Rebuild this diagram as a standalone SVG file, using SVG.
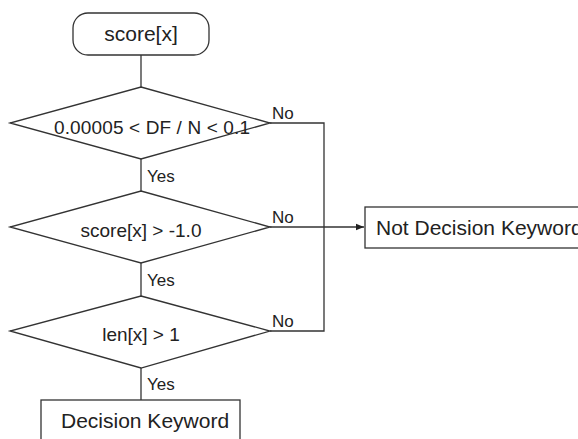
<svg xmlns="http://www.w3.org/2000/svg" width="578" height="439" viewBox="0 0 578 439">
<style>
.s{fill:#fff;stroke:#333;stroke-width:1.3}
.c{fill:none;stroke:#333;stroke-width:1.3}
text{font-family:"Liberation Sans",Arial,sans-serif;fill:#222}
.m{text-anchor:middle}
.l{font-size:17px}
</style>
<defs>
<marker id="ah" viewBox="0 0 10 10" refX="10" refY="5" markerWidth="8" markerHeight="8" markerUnits="userSpaceOnUse" orient="auto"><path d="M0,1 L10,5 L0,9 z" fill="#222"/></marker>
</defs>
<rect width="578" height="439" fill="#fff"/>
<g id="connectors">
<path class="c" d="M141,55 V87"/>
<path class="c" d="M141,159 V191"/>
<path class="c" d="M141,263 V296"/>
<path class="c" d="M141,368 V400"/>
<path class="c" d="M270,123 H324 V331 H270"/>
<path class="c" d="M270,227 H364" marker-end="url(#ah)"/>
<text class="l" x="147" y="182">Yes</text>
<text class="l" x="147" y="286">Yes</text>
<text class="l" x="147" y="390">Yes</text>
<text class="l" x="272" y="119">No</text>
<text class="l" x="272" y="223">No</text>
<text class="l" x="272" y="327">No</text>
</g>
<g id="start">
<rect class="s" x="73" y="13" width="136" height="42" rx="15"/>
<text class="m" x="141" y="41" font-size="21">score[x]</text>
</g>
<g id="d1">
<path class="s" d="M141,87 L270,123 L141,159 L10,123 Z"/>
<text x="54" y="134" font-size="19" textLength="196" lengthAdjust="spacing">0.00005 &lt; DF / N &lt; 0.1</text>
</g>
<g id="d2">
<path class="s" d="M141,191 L270,227 L141,263 L10,227 Z"/>
<text class="m" x="141" y="237" font-size="19">score[x] &gt; -1.0</text>
</g>
<g id="d3">
<path class="s" d="M141,296 L270,331 L141,368 L10,331 Z"/>
<text class="m" x="141" y="341" font-size="19">len[x] &gt; 1</text>
</g>
<g id="notkw">
<rect class="s" x="365" y="207" width="230" height="41"/>
<text x="376" y="235" font-size="21">Not Decision Keyword</text>
</g>
<g id="kw">
<rect class="s" x="41" y="400" width="199" height="50"/>
<text x="61" y="428" font-size="21">Decision Keyword</text>
</g>
</svg>
